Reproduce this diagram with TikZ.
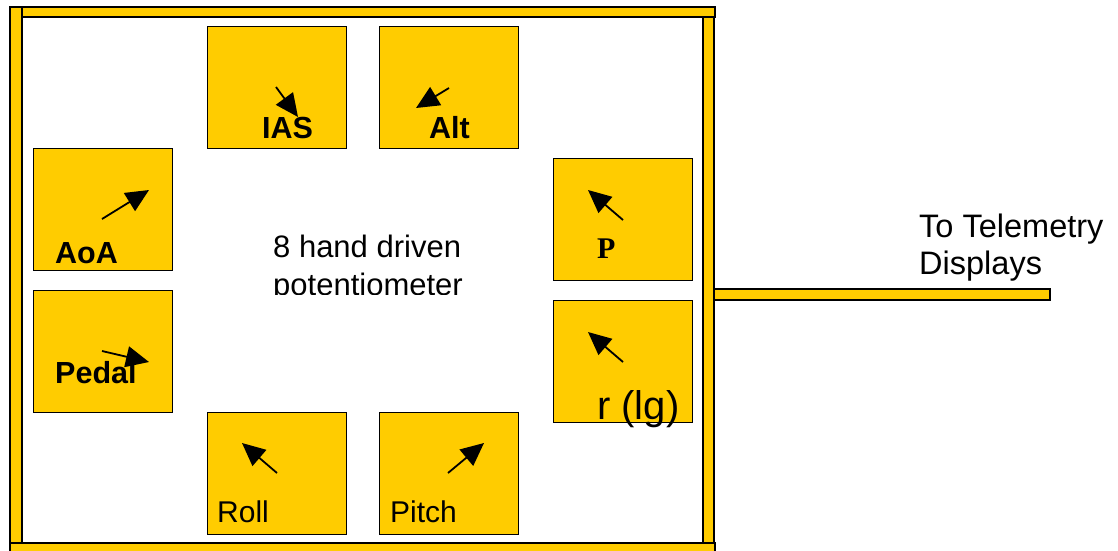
\documentclass[tikz,border=0pt]{standalone}
\usepackage{fontspec}
\setmainfont{Liberation Sans}
\newfontfamily\timesfont{Liberation Serif}
\usetikzlibrary{arrows.meta}
\definecolor{gold}{HTML}{FFCC00}
\begin{document}
\begin{tikzpicture}[x=1pt,y=-1pt,
  bar/.style={fill=gold,draw=black,line width=1.2pt},
  dial/.style={fill=gold,draw=black,line width=1.4pt,inner sep=0pt,
               minimum width=139pt,minimum height=122pt,anchor=north west},
  pointer/.style={line width=1.8pt,-{Triangle[length=23pt,width=21pt]}},
  lblb/.style={anchor=base west,inner sep=0pt,font=\fontsize{30.5}{36}\selectfont\bfseries},
  lblr/.style={anchor=base west,inner sep=0pt,font=\fontsize{30}{36}\selectfont},
  note/.style={anchor=base west,inner sep=0pt,align=left,font=\fontsize{32.5}{37}\selectfont},
]
\useasboundingbox (0,0) rectangle (1118,550);

% enclosure
\draw[bar] (10,7) rectangle (715,17);
\draw[bar] (10,7) rectangle (22,553);
\draw[bar] (703,17) rectangle (714,553);
\draw[bar] (10,543) rectangle (715,553);
% output line to the displays
\draw[bar] (714,289) rectangle (1050,300);

% potentiometer dials
\node[dial] (ias)   at (207,26)  {};
\node[dial] (alt)   at (379,26)  {};
\node[dial] (aoa)   at (33,148)  {};
\node[dial] (pedal) at (33,290)  {};
\node[dial] (p)     at (553,158) {};
\node[dial] (r)     at (553,300) {};
\node[dial] (roll)  at (207,412) {};
\node[dial] (pitch) at (379,412) {};

% labels
\node[lblb] (tias)   at (262,138) {IAS};
\node[lblb] (talt)   at (429,138) {Alt};
\node[lblb] (taoa)   at (55,263)  {AoA};
\node[lblb] (tpedal) at (55,383)  {Pedal};
\node[anchor=base west,inner sep=0pt,font=\timesfont\fontsize{30}{36}\selectfont\bfseries] (tp) at (597,258) {P};
\node[anchor=base west,inner sep=0pt,font=\fontsize{40}{48}\selectfont] (tr) at (597,419) {r (lg)};
\node[lblr] (troll)  at (217,522) {Roll};
\node[lblr] (tpitch) at (390,522) {Pitch};

% wiper pointers
\draw[pointer] (276,87)  -- (298,117);
\draw[pointer] (449,88)  -- (416,108);
\draw[pointer] (102,219) -- (149,190);
\draw[pointer] (102,351) -- (149,362);
\draw[pointer] (623,220) -- (588,190);
\draw[pointer] (623,362) -- (588,332);
\draw[pointer] (277,473) -- (242,443);
\draw[pointer] (448,473) -- (484,443);

% caption box, cut at its lower edge
\begin{scope}
  \clip (250,200) rectangle (520,294);
  \node[anchor=base west,inner sep=0pt,align=left,font=\fontsize{31}{38}\selectfont] (caption) at (273,295) {8 hand driven\\potentiometer};
\end{scope}

\node[note] (tele) at (919,274) {To Telemetry\\Displays};
\end{tikzpicture}
\end{document}
